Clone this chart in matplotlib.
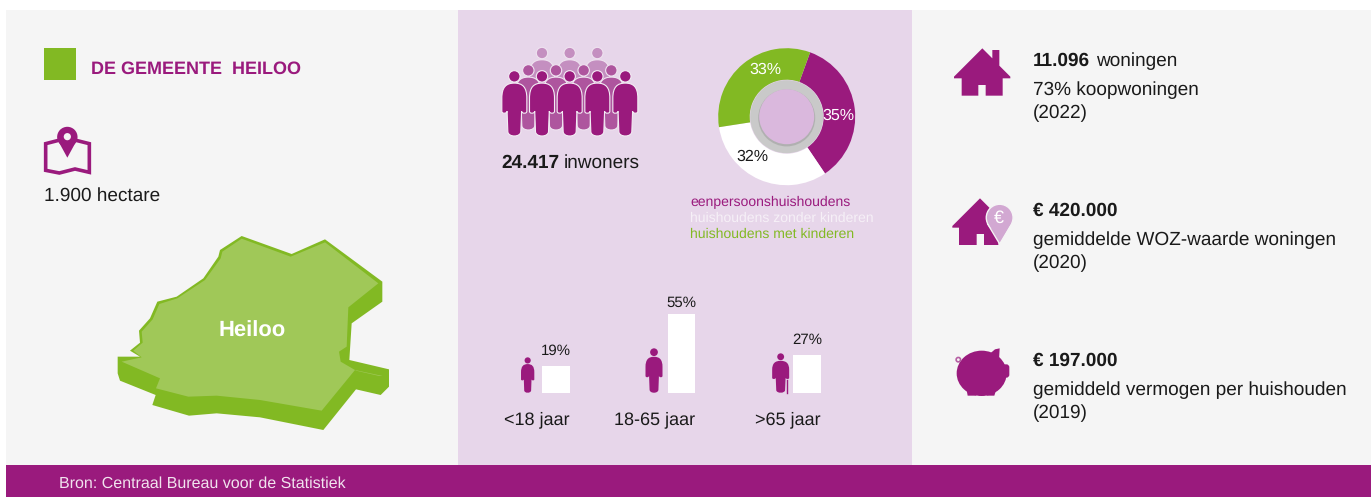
import matplotlib
matplotlib.use("Agg")
import matplotlib.pyplot as plt
from matplotlib.patches import Rectangle, Circle, Ellipse, Polygon, PathPatch, FancyBboxPatch
from matplotlib.path import Path

plt.rcParams['font.family'] = ['Liberation Sans', 'DejaVu Sans']
plt.rcParams['text.hinting'] = 'no_hinting'
plt.rcParams['text.hinting_factor'] = 1

PURPLE = '#9a1a7d'
GREEN = '#82b923'
LIGHTGREEN = '#a0c858'
PANEL = '#f5f5f5'
MID = '#e7d6ea'
INK = '#1a1a1a'

title = 'DE GEMEENTE  HEILOO'
area_text = '1.900 hectare'
map_label = 'Heiloo'
population = '24.417'
population_unit = 'inwoners'
household_labels = ['eenpersoonshuishoudens', 'huishoudens zonder kinderen', 'huishoudens met kinderen']
household_shares = [35, 32, 33]
age_labels = ['<18 jaar', '18-65 jaar', '>65 jaar']
age_shares = [19, 55, 27]
source = 'Bron: Centraal Bureau voor de Statistiek'

W, H = 1371, 497
BODY = 13.4
fig = plt.figure(figsize=(W / 100, H / 100), dpi=100, facecolor='white')
ax = fig.add_axes([0, 0, 1, 1])
ax.set_xlim(0, W)
ax.set_ylim(H, 0)
ax.axis('off')


def rect(x0, y0, x1, y1, c, z=1):
    ax.add_patch(Rectangle((x0, y0), x1 - x0, y1 - y0, fc=c, ec='none', zorder=z))


def txt(x, y, s, size=BODY, color=INK, weight='normal', ha='left', va='baseline', z=10):
    return ax.text(x, y, s, fontsize=size, color=color, fontweight=weight, ha=ha, va=va, zorder=z)


def z1(pts):
    return [(x / 3, y / 3) for x, y in pts]


def z4(pts):
    return [(930 + x / 3, 30 + y / 3) for x, y in pts]


# panels
rect(6, 10, 458, 465, PANEL)
rect(458, 10, 912, 465, MID)
rect(912, 10, W, 465, PANEL)
rect(6, 465, W, H, PURPLE, 2)

# header
rect(44, 48, 75.5, 80, GREEN)
txt(91, 74, title, size=13.1, color=PURPLE, weight='bold')

# map icon
ax.plot(*zip(*z1([(172, 422), (137, 431), (137, 511), (178, 519), (225, 507), (268, 517), (268, 431), (232, 422)])),
        color=PURPLE, lw=2.6, solid_joinstyle='miter', zorder=3)
ax.add_patch(Circle((202 / 3, 411 / 3), 10.2, fc=PURPLE, ec='none', zorder=4))
ax.add_patch(Polygon(z1([(173, 420), (231, 420), (202, 473)]), fc=PURPLE, ec='none', zorder=4))
ax.add_patch(Circle((202 / 3, 410 / 3), 3.6, fc=PANEL, ec='none', zorder=5))
txt(44, 201, area_text)

# municipality shape
outer = [(725, 708), (875, 762), (975, 718), (1147, 845), (1147, 905), (1055, 970), (1048, 1080), (1167, 1108),
         (1167, 1160), (1142, 1185), (1068, 1168), (970, 1290), (780, 1252), (650, 1240), (567, 1247), (457, 1215),
         (467, 1185), (360, 1142), (353, 1120), (353, 1070), (420, 1070), (390, 1052), (420, 1028), (417, 992),
         (450, 955), (472, 905), (530, 890), (610, 835), (655, 770), (660, 750)]
top = [(725, 716), (872, 770), (975, 727), (1135, 850), (1045, 922), (1040, 1040), (1017, 1055), (1022, 1085),
       (1065, 1110), (965, 1232), (780, 1200), (650, 1187), (565, 1190), (468, 1165), (480, 1135), (365, 1085),
       (425, 1072), (400, 1052), (428, 1028), (425, 995), (458, 958), (478, 912), (532, 895), (615, 840),
       (662, 775), (667, 755)]
ax.add_patch(Polygon(z1(outer), fc=GREEN, ec='none', zorder=3))
ax.add_patch(Polygon(z1(top), fc=LIGHTGREEN, ec='none', zorder=4))
ax.add_patch(Polygon(z1([(1065, 1110), (1148, 1128), (1138, 1128), (1068, 1112)]), fc=LIGHTGREEN, ec='none', zorder=4))
txt(252, 337, map_label, size=15.5, color='white', weight='bold', ha='center')


# people
def person(cx, ytop, h, color, z, edge=None, w=None):
    w = w if w is not None else h * 0.3825
    hw = w / 2
    P = lambda u, v: (cx + u * hw, ytop + v * h)
    verts = [P(0, .19),
             P(.65, .19), P(1, .25), P(1, .42),
             P(1, .62),
             P(1, .66), P(.62, .66), P(.58, .62),
             P(.52, .93),
             P(.5, 1.02), P(-.5, 1.02), P(-.52, .93),
             P(-.58, .62),
             P(-.62, .66), P(-1, .66), P(-1, .62),
             P(-1, .42),
             P(-1, .25), P(-.65, .19), P(0, .19),
             P(0, .19)]
    codes = [Path.MOVETO, Path.CURVE4, Path.CURVE4, Path.CURVE4, Path.LINETO,
             Path.CURVE4, Path.CURVE4, Path.CURVE4, Path.LINETO,
             Path.CURVE4, Path.CURVE4, Path.CURVE4, Path.LINETO,
             Path.CURVE4, Path.CURVE4, Path.CURVE4, Path.LINETO,
             Path.CURVE4, Path.CURVE4, Path.CURVE4, Path.CLOSEPOLY]
    ec = edge if edge else 'none'
    lw = 0.8 if edge else 0
    ax.add_patch(PathPatch(Path(verts, codes), fc=color, ec=ec, lw=lw, zorder=z))
    ax.add_patch(Circle((cx, ytop + .087 * h), .087 * h, fc=color, ec=ec, lw=lw, zorder=z))


for u in (186, 269, 352):
    person(480 + u / 3, 30 + 52 / 3, 65.5, '#c48fc0', 3, edge='#efe3f0', w=25)
for u in (145, 228, 311, 394):
    person(480 + u / 3, 30 + 104 / 3, 65.5, '#ae559e', 4, edge='#efe3f0', w=25)
for u in (103, 186, 269, 352, 436):
    person(480 + u / 3, 30 + 122 / 3, 65.5, PURPLE, 5, edge='#f3ecf4', w=25)
txt(501, 168, population, weight='bold')
txt(564, 168, population_unit)

# household donut
cx, cy, R = 786.7, 116.7, 68.5
dax = fig.add_axes([(cx - R) / W, 1 - (cy + R) / H, 2 * R / W, 2 * R / H])
dax.pie(household_shares, colors=[PURPLE, 'white', GREEN], startangle=70, counterclock=False, radius=1,
        wedgeprops=dict(width=1 - 37 / 68.5, linewidth=0))
dax.set_xlim(-1, 1)
dax.set_ylim(-1, 1)
dax.set_aspect('equal')
ax.set_zorder(0)
dax.set_zorder(1)
dax.patch.set_alpha(0)

oax = fig.add_axes([0, 0, 1, 1], facecolor='none')
oax.set_xlim(0, W)
oax.set_ylim(H, 0)
oax.axis('off')
oax.set_zorder(2)
oax.add_patch(Circle((cx, cy), 36.5, fc='#c9c9c9', ec='none'))
oax.add_patch(Circle((cx, cy + 1.2), 28.5, fc='#b0b0b0', ec='none'))
oax.add_patch(Circle((cx, cy), 27.5, fc='#dab8dd', ec='none'))
for (x, y), s, c in zip([(838, 116), (752, 156.5), (765.5, 70)],
                        [f'{v}%' for v in household_shares], ['white', INK, 'white']):
    oax.text(x, y, s, color=c, fontsize=11.2, ha='center', va='center')

for y, s, c in zip([206.5, 222, 238], household_labels, [PURPLE, '#f6f0f7', GREEN]):
    txt(690, y, s, size=9.9, color=c)

# age bars
spacing = 125.5
px_per_pct = 1.435
baseline = 393.3
bax = fig.add_axes([(556 - spacing / 2) / W, 1 - baseline / H, 3 * spacing / W, 60 * px_per_pct / H], facecolor='none')
bars = bax.bar(range(len(age_shares)), age_shares, width=27.3 / spacing, color='white', linewidth=0)
bax.set_xlim(-.5, 2.5)
bax.set_ylim(0, 60)
bax.axis('off')
bax.set_zorder(1)
for i, (v, pad) in enumerate(zip(age_shares, [8, 4.5, 7.5])):
    bax.annotate(f'{v}%', (i, v), xytext=(0, pad * .72), textcoords='offset points', ha='center', va='bottom',
                 fontsize=11.0, color=INK, annotation_clip=False)

for x, s in zip([537, 654.5, 788], age_labels):
    txt(x, 424, s, size=13, ha='center')

person(480 + 143 / 3, 285 + 217 / 3, 35.5, PURPLE, 5, w=13.3)
person(480 + 522 / 3, 285 + 190 / 3, 44.5, PURPLE, 5, w=17)
person(480 + 902 / 3, 285 + 205 / 3, 39.5, PURPLE, 5, w=17)
ax.plot([480 + 922 / 3] * 2, [285 + 285 / 3, 285 + 323 / 3], color=PURPLE, lw=1, zorder=5)

# right column: house
ax.add_patch(Polygon(z4([(72, 140), (157, 55), (187, 85), (187, 60), (208, 60), (208, 107), (241, 140), (241, 145),
                         (218, 145), (218, 197), (167, 197), (167, 165), (145, 165), (145, 197), (95, 197), (95, 145),
                         (72, 145)]), fc=PURPLE, ec='none', zorder=3))
# house with value pin
ax.add_patch(Polygon(z4([(67, 588), (150, 505), (233, 588), (233, 593), (205, 593), (205, 645), (162, 645), (162, 612),
                         (140, 612), (140, 645), (87, 645), (87, 593), (67, 593)]), fc=PURPLE, ec='none', zorder=3))
ax.add_patch(Circle((930 + 209 / 3, 30 + 563 / 3), 13.4, fc='#d2a8d2', ec='#f5f5f5', lw=1, zorder=4))
ax.add_patch(Polygon(z4([(174, 580), (244, 580), (209, 642)]), fc='#d2a8d2', ec='none', zorder=4))
ax.plot(*zip(*z4([(173, 582), (209, 642), (245, 582)])), color='#f5f5f5', lw=1, zorder=4)
txt(930 + 207 / 3, 30 + 566 / 3, '€', size=13, color='white', ha='center', va='center', z=5)

# piggy bank
ax.add_patch(Ellipse((930 + 155 / 3, 30 + 1030 / 3), 150 / 3, 136 / 3, fc=PURPLE, ec='none', zorder=3))
ax.add_patch(FancyBboxPatch((930 + 205 / 3, 30 + 1003 / 3), 33 / 3, 40 / 3, boxstyle='round,pad=0,rounding_size=3',
                            fc=PURPLE, ec='none', zorder=3))
ax.add_patch(Polygon(z4([(175, 975), (195, 958), (209, 955), (207, 990), (185, 1000)]), fc=PURPLE, ec='none', zorder=3))
ax.add_patch(Polygon(z4([(108, 1070), (142, 1075), (139, 1097), (113, 1097)]), fc=PURPLE, ec='none', zorder=3))
ax.add_patch(Polygon(z4([(166, 1075), (203, 1065), (193, 1097), (170, 1097)]), fc=PURPLE, ec='none', zorder=3))
ax.add_patch(Circle((930 + 85 / 3, 30 + 989 / 3), 2.2, fc='none', ec='#b65fa4', lw=1.2, zorder=3))

TX = 1033
txt(TX, 66, '11.096', weight='bold')
txt(1096, 66, 'woningen')
txt(TX, 95, '73% koopwoningen')
txt(TX, 118, '(2022)')
txt(TX, 216, '€ 420.000', weight='bold')
txt(TX, 245, 'gemiddelde WOZ-waarde woningen')
txt(TX, 268, '(2020)')
txt(TX, 366, '€ 197.000', weight='bold')
txt(TX, 395, 'gemiddeld vermogen per huishouden')
txt(TX, 418, '(2019)')

# footer
txt(59, 488, source, size=11.5, color='#f1e3ee')

fig.savefig('out.png', dpi=100, facecolor='white')
